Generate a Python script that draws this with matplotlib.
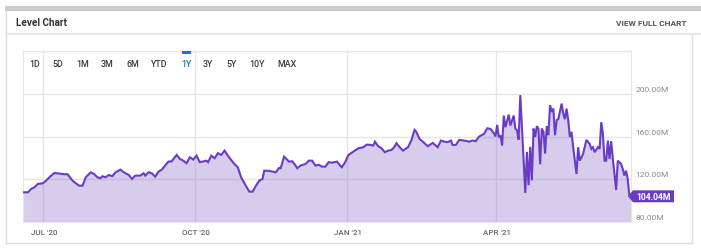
import numpy as np
import matplotlib
matplotlib.use("Agg")
import matplotlib.pyplot as plt
from matplotlib.lines import Line2D
from matplotlib.patches import Rectangle, Polygon

plt.rcParams['font.family'] = ['Roboto', 'DejaVu Sans']

# ── data ─────────────────────────────────────────────────────────────────────
START = np.datetime64("2020-06-19")
day_offset = [
    0, 3, 5, 7, 9, 12, 14, 16, 19, 22, 25, 27, 30, 32, 34, 36, 38, 41, 43, 45,
    47, 48, 50, 52, 54, 56, 59, 61, 64, 66, 68, 71, 73, 74, 76, 78, 80, 82, 84, 86,
    88, 90, 93, 95, 97, 99, 101, 103, 105, 107, 109, 111, 112, 114, 116, 118, 120, 122, 124, 127,
    128, 130, 132, 136, 137, 139, 141, 143, 145, 146, 148, 150, 153, 155, 156, 158, 161, 163, 165, 166,
    168, 171, 173, 175, 177, 179, 181, 183, 185, 187, 190, 192, 193, 195, 197, 200, 203, 206, 208, 210,
    212, 213, 215, 217, 219, 221, 223, 225, 226, 228, 230, 233, 235, 237, 238, 240, 242, 245, 248, 251,
    253, 255, 257, 259, 260, 262, 264, 267, 270, 272, 274, 276, 279, 281, 283, 285, 286, 287, 288, 289,
    290, 291, 292, 294, 295, 297, 298, 299, 300, 301, 304, 305, 306, 307, 308, 309, 310, 311, 312, 313,
    314, 315, 316, 317, 318, 319, 320, 321, 322, 323, 324, 326, 327, 328, 329, 330, 331, 332, 333, 335,
    336, 337, 339, 341, 343, 344, 345, 346, 348, 349, 350, 351, 352, 353, 354, 355, 356, 357, 358, 359,
    360, 362, 363, 364, 365, 366, 367, 368,
]
level_m = [
    107.8, 107.8, 111.0, 112.5, 115.6, 116.2, 118.7, 121.9, 125.9, 125.3, 124.7, 124.7, 118.7, 116.2, 114.0, 114.0, 121.9, 126.5, 125.0, 121.9,
    121.0, 122.8, 121.9, 124.0, 122.8, 126.5, 129.0, 126.5, 124.0, 120.3, 123.4, 123.4, 125.6, 123.4, 126.5, 125.6, 122.4, 127.1, 129.0, 132.8,
    136.5, 136.8, 142.8, 139.0, 137.4, 135.0, 140.6, 138.4, 142.1, 136.0, 136.6, 137.4, 136.0, 142.1, 139.7, 144.4, 142.8, 146.8, 142.1, 136.0,
    134.3, 131.2, 121.9, 110.9, 108.4, 108.4, 114.0, 118.7, 120.3, 128.0, 128.0, 127.5, 126.5, 130.6, 130.4, 141.2, 136.5, 136.8, 132.8, 130.3,
    132.8, 134.3, 137.4, 137.4, 132.8, 133.5, 131.8, 131.8, 136.0, 135.5, 136.5, 132.8, 131.2, 136.0, 142.8, 145.9, 149.0, 150.0, 152.4, 152.2,
    151.5, 155.2, 150.9, 149.0, 145.3, 146.8, 147.3, 150.6, 153.7, 150.0, 146.8, 150.0, 156.2, 166.2, 164.6, 157.8, 155.2, 150.9, 154.0, 150.0,
    156.2, 155.2, 154.7, 156.2, 152.1, 152.1, 156.8, 156.2, 155.2, 156.2, 155.6, 159.9, 162.4, 167.7, 167.1, 163.1, 160.0, 170.9, 159.3, 161.0,
    151.5, 179.6, 168.7, 180.5, 170.2, 179.6, 167.4, 165.9, 157.1, 198.7, 107.2, 145.6, 114.4, 150.3, 119.0, 167.4, 159.6, 169.7, 167.4, 134.0,
    167.4, 164.3, 144.0, 169.7, 161.2, 189.3, 183.0, 186.1, 161.2, 175.3, 176.2, 190.8, 181.5, 176.2, 186.1, 175.3, 159.6, 164.3, 150.0, 125.0,
    150.0, 137.4, 143.7, 156.8, 153.1, 148.4, 150.0, 145.3, 150.0, 148.4, 173.4, 162.4, 137.4, 137.4, 156.2, 139.0, 155.6, 139.0, 125.0, 110.0,
    137.4, 134.3, 129.7, 123.4, 128.0, 120.3, 104.6, 104.04,
]
y_ticks = [80, 120, 160, 200]
x_ticks = ["2020-07-01", "2020-10-01", "2021-01-01", "2021-04-01"]
x_tick_labels = ["JUL '20", "OCT '20", "JAN '21", "APR '21"]
ranges = ["1D", "5D", "1M", "3M", "6M", "YTD", "1Y", "3Y", "5Y", "10Y", "MAX"]
range_x = [35, 58, 83, 107, 133, 159, 186, 208, 232, 257, 287]   # px centres
ACTIVE = "1Y"

LINE_C = "#6a3cc6"
FILL_C = "#7e57c2"
GRID_C = "#e6e6e6"
W, H = 701, 253

dates = START + np.array(day_offset).astype("timedelta64[D]")

fig = plt.figure(figsize=(W / 100, H / 100), dpi=100)
fig.patch.set_facecolor("white")


def px(x, y):
    """top-left pixel coords -> figure fraction"""
    return x / W, 1 - y / H


def hline(x0, x1, y, color, lw=1.0):
    fig.add_artist(Line2D([x0 / W, x1 / W], [1 - y / H, 1 - y / H],
                          transform=fig.transFigure, color=color, lw=lw))


def vline(x, y0, y1, color, lw=1.0):
    fig.add_artist(Line2D([x / W, x / W], [1 - y0 / H, 1 - y1 / H],
                          transform=fig.transFigure, color=color, lw=lw))


# ── card frame ───────────────────────────────────────────────────────────────
fig.add_artist(Rectangle(px(5, 12), (W - 5) / W, 4.5 / H, transform=fig.transFigure,
                         color="#cccccc", lw=0))
vline(6, 12, 244, "#dddddd")
hline(6, W, 35, "#e8e8e8", lw=1.5)
hline(6, 692, 244, "#dddddd")
vline(692, 36, 244, "#dddddd")

fig.text(*px(16, 23), "Level Chart", fontsize=7.2, fontweight="bold",
         color="#333333", va="center", ha="left")
fig.text(*px(686, 24), "VIEW FULL CHART", fontsize=6, fontweight="bold",
         color="#555555", va="center", ha="right")

# ── chart ────────────────────────────────────────────────────────────────────
ax = fig.add_axes([23 / W, (H - 223) / H, (631 - 23) / W, (223 - 52) / H])
ax.fill_between(dates, 80, level_m, color=FILL_C, alpha=0.3, lw=0, zorder=2)
ax.plot(dates, level_m, color=LINE_C, lw=1.5, zorder=3, solid_joinstyle="miter")

ax.set_ylim(80, 240)
ax.set_xlim(dates[0], dates[-1])
ax.set_yticks(y_ticks + [240])
ax.set_xticks([np.datetime64(d) for d in x_ticks])
ax.tick_params(length=0, labelleft=False, labelbottom=False)
ax.grid(True, color=GRID_C, lw=1, zorder=1)
for s in ["left", "top", "right"]:
    ax.spines[s].set_color(GRID_C)
ax.spines["bottom"].set_visible(False)
ax.set_axisbelow(True)

for v in y_ticks:
    ax.annotate(f"{v:.2f}M", xy=(1, v), xycoords=("axes fraction", "data"),
                xytext=(3, 3.5), textcoords="offset points", fontsize=6,
                color="#8a8a8a", va="center", ha="left")
for d, lab in zip(x_ticks, x_tick_labels):
    ax.annotate(lab, xy=(np.datetime64(d), 0), xycoords=("data", "axes fraction"),
                xytext=(1, -7.2), textcoords="offset points", fontsize=5.8,
                color="#666666", va="center", ha="center", fontweight="medium")

# range selector
for lab, x in zip(ranges, range_x):
    active = lab == ACTIVE
    fig.text(*px(x, 64.5), lab, fontsize=6.4, color="#1a73c8" if active else "#3c3c3c",
             ha="center", va="center", fontweight="medium")
    if active:
        fig.add_artist(Rectangle(px(x - 4.5, 54.5), 9 / W, 2.5 / H,
                                 transform=fig.transFigure, color="#1a73c8", lw=0))

# last value flag
last = level_m[-1]
fig_y = ax.transData.transform((0, last))[1]
yc = 1 - (H - fig_y) / H
tip_x, box_x0, box_x1, hh = 628 / W, 633 / W, 674 / W, 6 / H
fig.add_artist(Polygon([(tip_x, yc), (box_x0, yc + hh), (box_x1, yc + hh),
                        (box_x1, yc - hh), (box_x0, yc - hh)], closed=True,
                       transform=fig.transFigure, color=LINE_C, lw=0))
fig.text((box_x0 + box_x1) / 2, yc, f"{last:.2f}M", fontsize=6.2, fontweight="bold",
         color="white", ha="center", va="center")

fig.savefig("out.png", dpi=100)
